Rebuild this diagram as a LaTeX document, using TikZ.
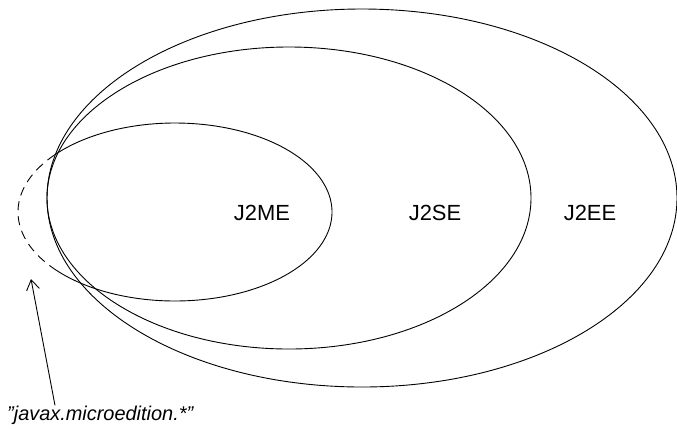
\documentclass[tikz,border=0pt]{standalone}
\usepackage{fontspec}
\setmainfont{Liberation Sans}
\usetikzlibrary{arrows.meta,calc}
\begin{document}
\begin{tikzpicture}[x=1bp,y=-1bp,
  setline/.style={line width=0.9bp,black},
  setlabel/.style={font=\fontsize{22}{26}\selectfont,inner sep=0pt},
  pkglabel/.style={font=\fontsize{20}{24}\selectfont\itshape,inner sep=0pt,anchor=base west}
]
  \useasboundingbox (0,0) rectangle (677,428);
  % edition sets
  \coordinate (eecenter) at (362,198);
  \coordinate (secenter) at (289,198);
  \draw[setline] (eecenter) ellipse [x radius=315,y radius=189];
  \draw[setline] (secenter) ellipse [x radius=242,y radius=151];
  \draw[setline] plot[domain=220:500,samples=140] ({175+157*cos(\x)},{212-89*sin(\x)});
  \draw[setline,dash pattern=on 9bp off 6bp] plot[domain=140:220,samples=40] ({175+157*cos(\x)},{212-89*sin(\x)});
  % labels
  \node[setlabel] (j2me) at (262,213) {J2ME};
  \node[setlabel] (j2se) at (435,213) {J2SE};
  \node[setlabel] (j2ee) at (590,213) {J2EE};
  % package pointer
  \node[pkglabel] (pkg) at (7,420) {"javax.microedition.*"};
  \coordinate (pkgtip) at (31,279);
  \draw[setline,-{Straight Barb[length=10bp,width=13bp]}] ([xshift=48bp]pkg.north west) -- (pkgtip);
\end{tikzpicture}
\end{document}
